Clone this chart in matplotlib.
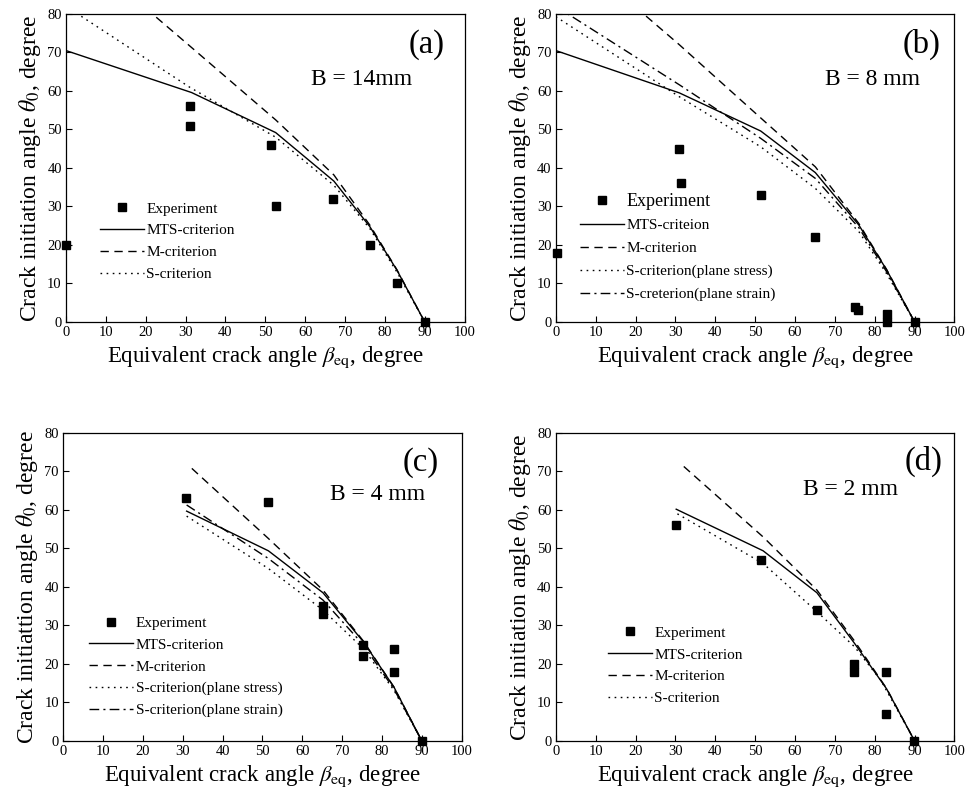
import numpy as np
import matplotlib
matplotlib.use("Agg")
import matplotlib.pyplot as plt

plt.rcParams["font.family"] = ["Liberation Serif", "DejaVu Serif"]
plt.rcParams["mathtext.fontset"] = "stix"

# ---- panel (a) B = 14 mm
a_exp_x = [0, 31, 31.2, 51.4, 52.6, 67, 76.2, 83, 90]
a_exp_y = [20, 56, 51, 46, 30, 32, 20, 10, 0]
a_mts_x = [0, 31.5, 52.6, 67.2, 76.2, 83, 90]
a_mts_y = [70.5, 59.6, 49.2, 36.6, 24.8, 13.5, 0]
a_m_x = [20, 31.5, 52.6, 67.2, 76.2, 83, 90]
a_m_y = [81.5, 71.3, 52.5, 38.2, 25.2, 13.6, 0]
a_s_x = [0, 31, 52.6, 67.2, 76.2, 83, 90]
a_s_y = [82, 61, 48, 35.5, 24.3, 13, 0]

# ---- panel (b) B = 8 mm
b_exp_x = [0.2, 30.9, 31.5, 51.4, 65.1, 75.1, 75.8, 83, 83, 90]
b_exp_y = [18, 45, 36, 33, 22, 4, 3, 2, 0, 0]
b_mts_x = [0, 31, 51.4, 65.1, 76, 83, 90]
b_mts_y = [70.5, 59.5, 49.6, 38.8, 25.2, 13.5, 0]
b_m_x = [20, 31, 51.4, 65.1, 76, 83, 90]
b_m_y = [81.8, 72, 53, 40.3, 25.6, 13.6, 0]
b_ss_x = [0, 31, 51.4, 65.1, 76, 83, 90]
b_ss_y = [79.3, 58.5, 45.5, 34.7, 23.5, 12.5, 0]
b_sn_x = [0, 31, 51.4, 65.1, 76, 83, 90]
b_sn_y = [82, 61.6, 47.7, 37.3, 24.5, 13, 0]

# ---- panel (c) B = 4 mm
c_exp_x = [30.8, 51.5, 65.3, 65.3, 75.3, 75.3, 83, 83, 90]
c_exp_y = [63, 62, 35, 33, 25, 22, 24, 18, 0]
c_mts_x = [31, 51.5, 65.2, 75.3, 83, 90]
c_mts_y = [59.7, 49.4, 38.5, 25.8, 14, 0]
c_m_x = [32.3, 51.5, 65.2, 75.3, 83, 90]
c_m_y = [70.8, 52.6, 39.2, 26, 14, 0]
c_ss_x = [31, 51.5, 65.2, 75.3, 83, 90]
c_ss_y = [58.4, 44.8, 34, 24, 13.2, 0]
c_sn_x = [31, 51.5, 65.2, 75.3, 83, 90]
c_sn_y = [61.3, 47.4, 36.6, 25, 13.5, 0]

# ---- panel (d) B = 2 mm
d_exp_x = [30.2, 51.5, 65.5, 74.9, 74.9, 82.9, 82.9, 89.8]
d_exp_y = [56, 47, 34, 20, 18, 18, 7, 0]
d_mts_x = [30.2, 52, 65.5, 74.9, 83, 90]
d_mts_y = [60.2, 49.4, 38.5, 25.4, 13.5, 0]
d_m_x = [32.1, 52, 65.5, 74.9, 83, 90]
d_m_y = [71.3, 53, 39.2, 26, 13.6, 0]
d_s_x = [30.5, 52, 65.5, 74.9, 81.5, 90]
d_s_y = [59, 46.1, 33.6, 24.5, 15.8, 0]

DASH = (0, (6, 4))
DOT = (0, (1.2, 3.2))
DASHDOT = (0, (7, 3, 1.5, 3))

fig = plt.figure(figsize=(9.7, 7.99), dpi=100)
axes = {
    "a": fig.add_axes([0.068, 0.597, 0.411, 0.3855]),
    "b": fig.add_axes([0.573, 0.597, 0.411, 0.3855]),
    "c": fig.add_axes([0.065, 0.0726, 0.411, 0.3855]),
    "d": fig.add_axes([0.573, 0.0726, 0.411, 0.3855]),
}

def style(ax, ylab):
    ax.set_xlim(0, 100); ax.set_ylim(0, 80)
    ax.set_xticks(range(0, 101, 10)); ax.set_yticks(range(0, 81, 10))
    ax.tick_params(direction="in", length=4, width=0.8, labelsize=10.5, pad=3,
                   top=False, right=False)
    for s in ax.spines.values():
        s.set_linewidth(0.9)
    ax.set_xlabel(r"Equivalent crack angle $\beta_{\rm eq}$, degree", fontsize=16.5, labelpad=4)
    ax.set_ylabel(ylab, fontsize=17, labelpad=3)

def exp(ax, x, y):
    return ax.plot(x, y, ls="none", marker="s", ms=5.5, color="k", clip_on=False, zorder=5)[0]

def line(ax, x, y, ls):
    return ax.plot(x, y, color="k", lw=1.0, ls=ls)[0]

LEG = dict(loc="upper left", frameon=False, fontsize=11, handlelength=2.9, handletextpad=0.15,
           labelspacing=0.53, borderpad=0, borderaxespad=0)
ylab = r"Crack initiation angle $\theta_0$, degree"

# (a)
ax = axes["a"]; style(ax, ylab)
h = [exp(ax, a_exp_x, a_exp_y), line(ax, a_mts_x, a_mts_y, "-"),
     line(ax, a_m_x, a_m_y, DASH), line(ax, a_s_x, a_s_y, DOT)]
ax.legend(h, ["Experiment", "MTS-criterion", "M-criterion", "S-criterion"],
          bbox_to_anchor=(0.085, 0.39), **LEG)
ax.text(86, 72, "(a)", fontsize=23.5, va="center")
ax.text(61.4, 63, "B = 14mm", fontsize=17, va="center")

# (b)
ax = axes["b"]; style(ax, ylab)
h = [exp(ax, b_exp_x, b_exp_y), line(ax, b_mts_x, b_mts_y, "-"), line(ax, b_m_x, b_m_y, DASH),
     line(ax, b_ss_x, b_ss_y, DOT), line(ax, b_sn_x, b_sn_y, DASHDOT)]
legb = dict(LEG, labelspacing=0.6)
leg = ax.legend(h, ["Experiment", "MTS-criteion", "M-criterion", "S-criterion(plane stress)",
                    "S-creterion(plane strain)"],
                bbox_to_anchor=(0.06, 0.42), **legb)
leg.get_texts()[0].set_fontsize(13)
ax.text(87, 72, "(b)", fontsize=23.5, va="center")
ax.text(67.4, 63, "B = 8 mm", fontsize=17, va="center")

# (c)
ax = axes["c"]; style(ax, r"Crack initiattion angle $\theta_0$, degree")
h = [exp(ax, c_exp_x, c_exp_y), line(ax, c_mts_x, c_mts_y, "-"), line(ax, c_m_x, c_m_y, DASH),
     line(ax, c_ss_x, c_ss_y, DOT), line(ax, c_sn_x, c_sn_y, DASHDOT)]
ax.legend(h, ["Experiment", "MTS-criterion", "M-criterion", "S-criterion(plane stress)",
              "S-criterion(plane strain)"],
          bbox_to_anchor=(0.065, 0.405), **LEG)
ax.text(85.2, 72.2, "(c)", fontsize=23.5, va="center")
ax.text(66.9, 63.9, "B = 4 mm", fontsize=17, va="center")

# (d)
ax = axes["d"]; style(ax, ylab)
h = [exp(ax, d_exp_x, d_exp_y), line(ax, d_mts_x, d_mts_y, "-"),
     line(ax, d_m_x, d_m_y, DASH), line(ax, d_s_x, d_s_y, DOT)]
ax.legend(h, ["Experiment", "MTS-criterion", "M-criterion", "S-criterion"],
          bbox_to_anchor=(0.13, 0.373), **LEG)
ax.text(87.6, 72.5, "(d)", fontsize=23.5, va="center")
ax.text(62, 65.2, "B = 2 mm", fontsize=17, va="center")

fig.savefig("out.png", dpi=100)
